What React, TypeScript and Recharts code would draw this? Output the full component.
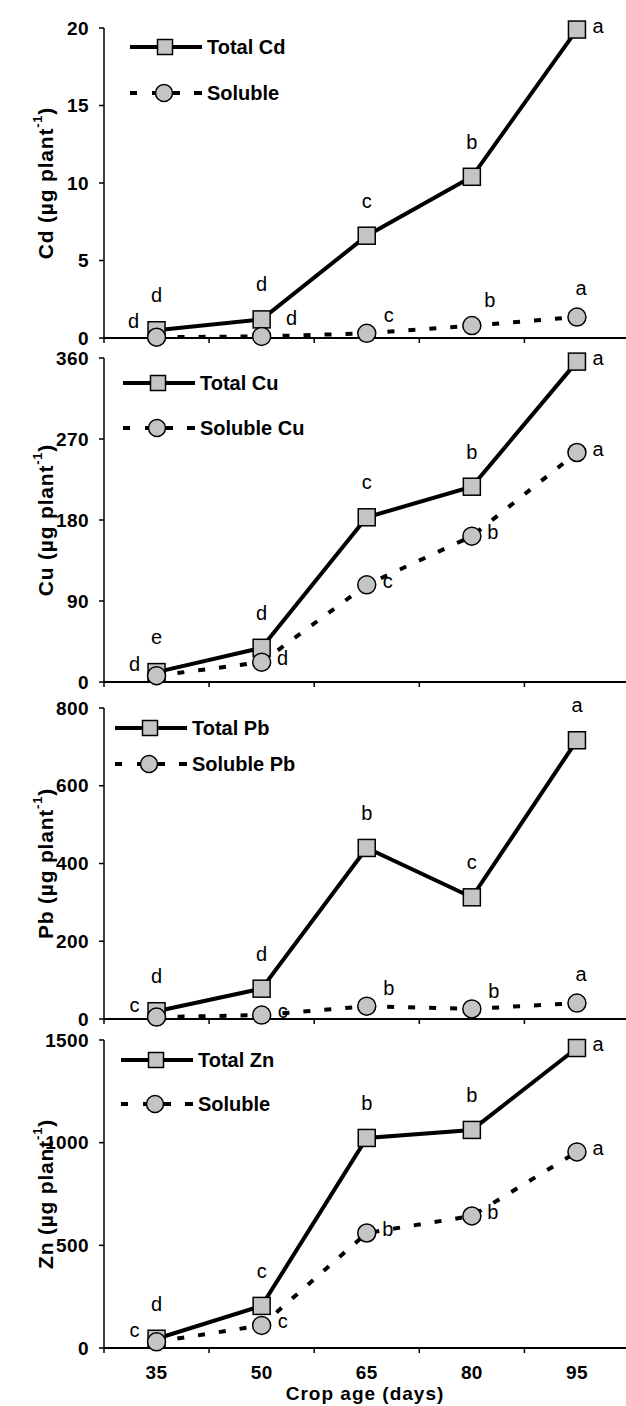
import React from 'react';
import { LineChart, Line, XAxis, YAxis, Legend, LabelList, Label } from 'recharts';

const FONT = '"Liberation Sans", Arial, Helvetica, sans-serif';

// ---------- data ----------
const days = [35, 50, 65, 80, 95];
const boundaryTicks = [27.5, 42.5, 57.5, 72.5, 87.5];

const cdTotal = [0.5, 1.2, 6.6, 10.4, 19.9];
const cdSoluble = [0.05, 0.1, 0.3, 0.8, 1.35];
const cdTotalLetters = ['d', 'd', 'c', 'b', 'a'];
const cdSolubleLetters = ['d', 'd', 'c', 'b', 'a'];
const cdTicks = [0, 5, 10, 15, 20];

const cuTotal = [11, 38, 183, 217, 356];
const cuSoluble = [7, 22, 108, 162, 255];
const cuTotalLetters = ['e', 'd', 'c', 'b', 'a'];
const cuSolubleLetters = ['d', 'd', 'c', 'b', 'a'];
const cuTicks = [0, 90, 180, 270, 360];

const pbTotal = [20, 78, 440, 313, 717];
const pbSoluble = [5, 10, 33, 26, 41];
const pbTotalLetters = ['d', 'd', 'b', 'c', 'a'];
const pbSolubleLetters = ['c', 'c', 'b', 'b', 'a'];
const pbTicks = [0, 200, 400, 600, 800];

const znTotal = [45, 205, 1023, 1062, 1461];
const znSoluble = [30, 110, 560, 643, 955];
const znTotalLetters = ['d', 'c', 'b', 'b', 'a'];
const znSolubleLetters = ['c', 'c', 'b', 'b', 'a'];
const znTicks = [0, 500, 1000, 1500];

// ---------- letter placement (style) ----------
const placementOffsets: Record<string, [number, number]> = {
  top: [0, -35],
  right: [21, -4],
  left: [-22, -12],
  leftHigh: [-23, -16],
  upright: [22, -18],
  uprightFar: [30, -18],
  upright2: [18, -26],
  above: [4, -29],
};

const cdTotalPlace = ['top', 'top', 'top', 'top', 'right'];
const cdSolublePlace = ['leftHigh', 'uprightFar', 'upright', 'upright2', 'above'];
const cuTotalPlace = ['top', 'top', 'top', 'top', 'right'];
const cuSolublePlace = ['left', 'right', 'right', 'right', 'right'];
const pbTotalPlace = ['top', 'top', 'top', 'top', 'top'];
const pbSolublePlace = ['left', 'right', 'upright', 'upright', 'above'];
const znTotalPlace = ['top', 'top', 'top', 'top', 'right'];
const znSolublePlace = ['left', 'right', 'right', 'right', 'right'];

const MARKER_FILL = '#c4c4c4';

const SquareDot = (props: any) => {
  const { cx, cy, index } = props;
  if (cx == null || cy == null) return <g key={`sq-${index}`} />;
  return (
    <rect key={`sq-${index}`} x={cx - 8.5} y={cy - 8.5} width={17} height={17}
      fill={MARKER_FILL} stroke="#000" strokeWidth={1.5} />
  );
};

const CircleDot = (props: any) => {
  const { cx, cy, index } = props;
  if (cx == null || cy == null) return <g key={`ci-${index}`} />;
  return <circle key={`ci-${index}`} cx={cx} cy={cy} r={9} fill={MARKER_FILL} stroke="#000" strokeWidth={1.5} />;
};

const makeLetter = (places: string[]) => (props: any) => {
  const { x, y, value, index } = props;
  if (x == null || y == null) return null;
  const [dx, dy] = placementOffsets[places[index]] ?? [0, -35];
  return (
    <text x={x + dx} y={y + dy} textAnchor="middle" dominantBaseline="central"
      fontSize={20} fontFamily={FONT} fill="#000">{value}</text>
  );
};

const makeYLabel = (metal: string) => (props: any) => {
  const vb = props.viewBox || {};
  const cx = vb.x + 1;
  const cy = vb.y + vb.height / 2;
  return (
    <text x={cx} y={cy} transform={`rotate(-90, ${cx}, ${cy})`} textAnchor="middle"
      dominantBaseline="central" fontSize={21} fontWeight="bold" fontFamily={FONT} fill="#000"
      letterSpacing={0.8}>
      {`${metal} (µg plant`}
      <tspan dy={-8} fontSize={13}>-1</tspan>
      <tspan dy={8}>)</tspan>
    </text>
  );
};

const xLabel = (props: any) => {
  const vb = props.viewBox || {};
  return (
    <text x={vb.x + vb.width / 2} y={vb.y + 44} textAnchor="middle" fontSize={19}
      fontWeight="bold" fontFamily={FONT} fill="#000" letterSpacing={1}>Crop age (days)</text>
  );
};

type LegendCfg = { L: number; y1: number; y2: number; total: string; soluble: string };

const LegendBox = ({ cfg }: { cfg: LegendCfg }) => {
  const gap = cfg.y2 - cfg.y1;
  const r1 = 14;
  const r2 = 14 + gap;
  const ox = 4;
  return (
    <svg width={260} height={gap + 30} style={{ display: 'block', overflow: 'visible' }}>
      <line x1={ox} x2={ox + 72} y1={r1} y2={r1} stroke="#000" strokeWidth={4} />
      <rect x={ox + 35 - 7.5} y={r1 - 7.5} width={15} height={15} fill={MARKER_FILL} stroke="#000" strokeWidth={1.5} />
      <text x={ox + 77} y={r1} dominantBaseline="central" fontSize={20} fontWeight="bold" fontFamily={FONT} fill="#000">{cfg.total}</text>
      <line x1={ox} x2={ox + 72} y1={r2} y2={r2} stroke="#000" strokeWidth={4} strokeDasharray="7 15 28 14 8" />
      <circle cx={ox + 34} cy={r2} r={8.5} fill={MARKER_FILL} stroke="#000" strokeWidth={1.5} />
      <text x={ox + 77} y={r2} dominantBaseline="central" fontSize={20} fontWeight="bold" fontFamily={FONT} fill="#000">{cfg.soluble}</text>
    </svg>
  );
};

type PanelProps = {
  metal: string;
  total: number[];
  soluble: number[];
  totalLetters: string[];
  solubleLetters: string[];
  totalPlace: string[];
  solublePlace: string[];
  yTicks: number[];
  plotTop: number;
  plotBottom: number;
  legend: LegendCfg;
  isBottom: boolean;
};

const W = 626;
const H = 1406;
const BOUND_H = 8;
const LABEL_H = 50;

const Panel = (p: PanelProps) => {
  const data = days.map((d, i) => ({
    day: d,
    total: p.total[i],
    soluble: p.soluble[i],
    totalLetter: p.totalLetters[i],
    solubleLetter: p.solubleLetters[i],
  }));
  const bottomMargin = H - p.plotBottom - BOUND_H - (p.isBottom ? LABEL_H : 0);
  const tickStyle = { fontSize: 19, fontWeight: 'bold', fill: '#000', fontFamily: FONT, letterSpacing: 0.4 };
  return (
    <div style={{ position: 'absolute', left: 0, top: 0 }}>
      <LineChart width={W} height={H} data={data}
        margin={{ top: p.plotTop, right: 0, bottom: bottomMargin, left: 44 }}>
        <XAxis xAxisId="b" dataKey="day" type="number" domain={[27.5, 102]} ticks={boundaryTicks}
          interval={0} tick={() => <g />} tickSize={5} height={BOUND_H}
          axisLine={{ stroke: '#000', strokeWidth: 2 }} tickLine={{ stroke: '#000', strokeWidth: 1.5 }} />
        <XAxis xAxisId="l" dataKey="day" type="number" domain={[27.5, 102]} ticks={days}
          interval={0} tick={tickStyle} tickSize={0} tickMargin={10} height={LABEL_H}
          axisLine={false} tickLine={false} hide={!p.isBottom}>
          {p.isBottom && <Label content={xLabel} />}
        </XAxis>
        <YAxis type="number" domain={[0, p.yTicks[p.yTicks.length - 1]]} ticks={p.yTicks} interval={0}
          width={60} tickSize={5} tickMargin={10} tick={tickStyle}
          axisLine={{ stroke: '#000', strokeWidth: 1.5 }} tickLine={{ stroke: '#000', strokeWidth: 1.5 }}>
          <Label content={makeYLabel(p.metal)} />
        </YAxis>
        <Legend layout="vertical" align="center" verticalAlign="middle"
          wrapperStyle={{ left: p.legend.L - 4, top: p.legend.y1 - 14, width: 260 }}
          content={() => <LegendBox cfg={p.legend} />} />
        <Line xAxisId="b" type="linear" dataKey="total" stroke="#000" strokeWidth={4}
          dot={SquareDot} activeDot={false} isAnimationActive={false}>
          <LabelList dataKey="totalLetter" content={makeLetter(p.totalPlace)} />
        </Line>
        <Line xAxisId="b" type="linear" dataKey="soluble" stroke="#000" strokeWidth={4}
          strokeDasharray="7 14" dot={CircleDot} activeDot={false} isAnimationActive={false}>
          <LabelList dataKey="solubleLetter" content={makeLetter(p.solublePlace)} />
        </Line>
      </LineChart>
    </div>
  );
};

export default function App() {
  return (
    <div style={{ position: 'absolute', left: 0, top: 0, width: W, height: H, background: '#fff' }}>
      <Panel metal="Cd" total={cdTotal} soluble={cdSoluble} totalLetters={cdTotalLetters}
        solubleLetters={cdSolubleLetters} totalPlace={cdTotalPlace} solublePlace={cdSolublePlace}
        yTicks={cdTicks} plotTop={28} plotBottom={338}
        legend={{ L: 130, y1: 47, y2: 93, total: 'Total Cd', soluble: 'Soluble' }} isBottom={false} />
      <Panel metal="Cu" total={cuTotal} soluble={cuSoluble} totalLetters={cuTotalLetters}
        solubleLetters={cuSolubleLetters} totalPlace={cuTotalPlace} solublePlace={cuSolublePlace}
        yTicks={cuTicks} plotTop={358} plotBottom={682}
        legend={{ L: 123, y1: 383, y2: 428, total: 'Total Cu', soluble: 'Soluble Cu' }} isBottom={false} />
      <Panel metal="Pb" total={pbTotal} soluble={pbSoluble} totalLetters={pbTotalLetters}
        solubleLetters={pbSolubleLetters} totalPlace={pbTotalPlace} solublePlace={pbSolublePlace}
        yTicks={pbTicks} plotTop={708} plotBottom={1019}
        legend={{ L: 115, y1: 728, y2: 764, total: 'Total Pb', soluble: 'Soluble Pb' }} isBottom={false} />
      <Panel metal="Zn" total={znTotal} soluble={znSoluble} totalLetters={znTotalLetters}
        solubleLetters={znSolubleLetters} totalPlace={znTotalPlace} solublePlace={znSolublePlace}
        yTicks={znTicks} plotTop={1040} plotBottom={1348}
        legend={{ L: 121, y1: 1060, y2: 1104, total: 'Total Zn', soluble: 'Soluble' }} isBottom={true} />
    </div>
  );
}
